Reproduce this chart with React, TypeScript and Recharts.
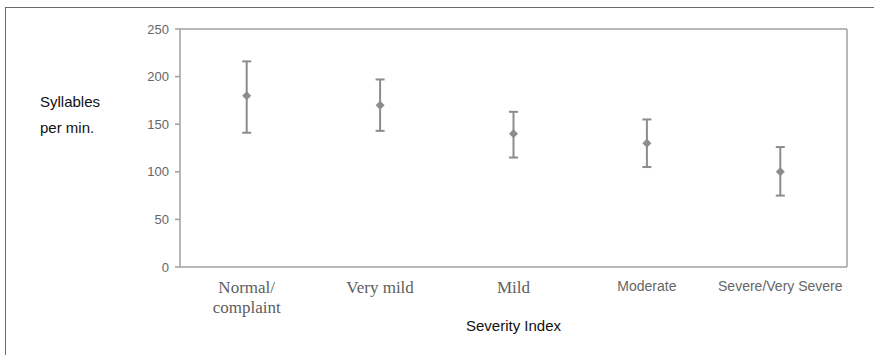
import React from 'react';
import {
  ComposedChart, Scatter, ErrorBar, XAxis, YAxis, ReferenceLine,
} from 'recharts';

// ── Valores ──────────────────────────────────────────────────────────────────
const CATEGORIES = ['Normal/\ncomplaint', 'Very mild', 'Mild', 'Moderate', 'Severe/Very Severe'];
const SERIF_LABEL = [true, true, true, false, false];
const MEANS = [180, 170, 140, 130, 100];
const UPPER = [216, 197, 163, 155, 126];
const LOWER = [141, 143, 115, 105, 75];
const Y_TICKS = [0, 50, 100, 150, 200, 250];
const BOUNDARY_TICKS = [0, 1, 2, 3, 4, 5];
const CENTER_TICKS = [0.5, 1.5, 2.5, 3.5, 4.5];

const GREY = '#8c8c8c';
const AXIS = '#a0a0a0';
const TEXT_GREY = '#666';
const SANS = '"Liberation Sans", Arial, sans-serif';
const SERIF = '"Liberation Serif", "Times New Roman", serif';

const data = MEANS.map((m, i) => ({
  x: i + 0.5,
  y: m,
  err: [m - LOWER[i], UPPER[i] - m],
}));

const Diamond = (props: any) => {
  const { cx, cy } = props;
  const r = 4.5;
  return (
    <polygon
      points={`${cx},${cy - r} ${cx + r},${cy} ${cx},${cy + r} ${cx - r},${cy}`}
      fill={GREY}
    />
  );
};

const Nothing = () => <g />;

// Etiquetas de categoría: las tres primeras en serif, las dos últimas en sans
const CategoryTick = (props: any) => {
  const { x, y, payload } = props;
  const i = Math.floor(payload.value);
  const lines = CATEGORIES[i].split('\n');
  const serif = SERIF_LABEL[i];
  return (
    <text
      x={x}
      y={y}
      textAnchor="middle"
      fill={serif ? '#5e5e5e' : TEXT_GREY}
      fontFamily={serif ? SERIF : SANS}
      fontSize={serif ? 17 : 14}
    >
      {lines.map((l, k) => (
        <tspan key={k} x={x} dy={k === 0 ? (serif ? 22 : 20) : 20}>{l}</tspan>
      ))}
    </text>
  );
};

const YTitle = (props: any) => {
  const { viewBox } = props;
  const x = viewBox.x + 40;
  return (
    <text fontFamily={SANS} fontSize={15} fill="#111">
      <tspan x={x} y={107}>Syllables</tspan>
      <tspan x={x} y={133}>per min.</tspan>
    </text>
  );
};

export default function App() {
  return (
    <div style={{ position: 'absolute', left: 0, top: 0, width: 874, height: 355, background: '#fff' }}>
      {/* marco exterior (solo izquierda y arriba visibles) */}
      <div
        style={{
          position: 'absolute', left: 5, top: 7, width: 869, height: 348,
          borderLeft: '1.5px solid #6a6a6a', borderTop: '1.5px solid #6a6a6a',
        }}
      />
      <ComposedChart
        width={874}
        height={355}
        margin={{ top: 29, right: 27, bottom: 0, left: 0 }}
        style={{ position: 'absolute', left: 0, top: 0 }}
      >
        <XAxis
          xAxisId="b"
          dataKey="x"
          type="number"
          domain={[0, 5]}
          ticks={BOUNDARY_TICKS}
          tick={false}
          tickSize={4}
          height={4}
          stroke={AXIS}
          strokeWidth={1.5}
        />
        <XAxis
          xAxisId="c"
          dataKey="x"
          type="number"
          domain={[0, 5]}
          ticks={CENTER_TICKS}
          tick={(p: any) => <CategoryTick {...p} />}
          tickLine={false}
          axisLine={false}
          tickSize={0}
          tickMargin={0}
          height={84}
          interval={0}
          label={{
            value: 'Severity Index',
            position: 'insideBottom',
            offset: 24,
            style: { fontFamily: SANS, fontSize: 15, fill: '#111' },
          }}
        />
        <YAxis
          type="number"
          domain={[0, 250]}
          ticks={Y_TICKS}
          width={180}
          tickSize={5}
          tickMargin={6}
          stroke={AXIS}
          strokeWidth={1.5}
          tick={{ fontFamily: SANS, fontSize: 13, fill: TEXT_GREY }}
          label={<YTitle />}
        />
        <ReferenceLine xAxisId="b" y={250} stroke={AXIS} strokeWidth={1.5} />
        <ReferenceLine xAxisId="b" x={5} stroke={AXIS} strokeWidth={1.5} />
        {/* serie invisible para que el eje de etiquetas tenga datos */}
        <Scatter
          xAxisId="c"
          data={data}
          dataKey="y"
          shape={<Nothing />}
          isAnimationActive={false}
        />
        <Scatter
          xAxisId="b"
          data={data}
          dataKey="y"
          shape={<Diamond />}
          isAnimationActive={false}
        >
          <ErrorBar
            dataKey="err"
            direction="y"
            width={4.5}
            stroke={GREY}
            strokeWidth={2}
            isAnimationActive={false}
          />
        </Scatter>
      </ComposedChart>
    </div>
  );
}
